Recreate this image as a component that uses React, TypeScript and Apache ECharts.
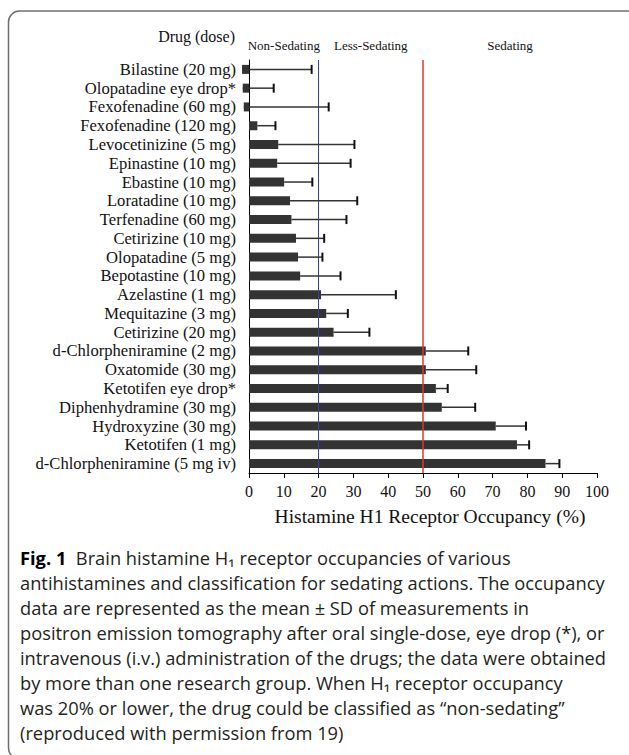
import React, { useEffect, useRef } from "react";
import * as echarts from "echarts";

const categories = [
  "Bilastine (20 mg)",
  "Olopatadine eye drop*",
  "Fexofenadine (60 mg)",
  "Fexofenadine (120 mg)",
  "Levocetinizine (5 mg)",
  "Epinastine (10 mg)",
  "Ebastine (10 mg)",
  "Loratadine (10 mg)",
  "Terfenadine (60 mg)",
  "Cetirizine (10 mg)",
  "Olopatadine (5 mg)",
  "Bepotastine (10 mg)",
  "Azelastine (1 mg)",
  "Mequitazine (3 mg)",
  "Cetirizine (20 mg)",
  "d-Chlorpheniramine (2 mg)",
  "Oxatomide (30 mg)",
  "Ketotifen eye drop*",
  "Diphenhydramine (30 mg)",
  "Hydroxyzine (30 mg)",
  "Ketotifen (1 mg)",
  "d-Chlorpheniramine (5 mg iv)",
];

const meanOccupancy = [
  -2.0, -1.8, -1.5, 2.4, 8.4, 8.1, 10.1, 11.8, 12.2, 13.5, 14.1, 14.7, 20.7,
  22.2, 24.3, 50.8, 50.8, 53.7, 55.4, 70.9, 77.0, 85.2,
];

const sdOccupancy = [
  20.0, 8.9, 24.4, 5.2, 21.9, 21.1, 8.1, 19.3, 15.8, 8.1, 7.0, 11.6, 21.5, 6.2,
  10.3, 12.2, 14.5, 3.4, 9.6, 8.7, 3.5, 4.0,
];

const zoneNames = ["Non-Sedating", "Less-Sedating", "Sedating"];
const zoneBounds = [0, 20, 50, 100];
const thresholds = [20, 50];
const thresholdColors = ["#3c3cb4", "#e5352c"];

const xTitle = "Histamine H1 Receptor Occupancy (%)";
const yTitle = "Drug (dose)";

const captionLines = [
  "{b|Fig. 1}  Brain histamine H\u2081 receptor occupancies of various",
  "antihistamines and classification for sedating actions. The occupancy",
  "data are represented as the mean \u00b1 SD of measurements in",
  "positron emission tomography after oral single-dose, eye drop (*), or",
  "intravenous (i.v.) administration of the drugs; the data were obtained",
  "by more than one research group. When H\u2081 receptor occupancy",
  "was 20% or lower, the drug could be classified as \u201cnon-sedating\u201d",
  "(reproduced with permission from 19)",
];

export default function App() {
  const ref = useRef<HTMLDivElement>(null);

  useEffect(() => {
    if (!ref.current) return;
    const chart = echarts.init(ref.current, null, { renderer: "svg" });
    const serif = "'Liberation Serif', 'Times New Roman', serif";
    const sans = "'Open Sans', 'Noto Sans', 'DejaVu Sans', sans-serif";

    const errData = categories.map((c, i) => [
      meanOccupancy[i],
      i,
      meanOccupancy[i] + sdOccupancy[i],
    ]);

    const graphics: any[] = [
      {
        type: "rect",
        z: -10,
        shape: { x: 8.5, y: 11, width: 632, height: 748, r: 11 },
        style: { fill: "none", stroke: "#6e6e6e", lineWidth: 1.5 },
      },
    ];
    captionLines.forEach((line, i) => {
      graphics.push({
        type: "text",
        x: 20,
        y: 557 + 25 * i,
        style: {
          text: line,
          fontSize: 18.3,
          fontFamily: sans,
          fill: "#231f20",
          verticalAlign: "middle",
          rich: {
            b: { fontSize: 18.3, fontFamily: sans, fontWeight: "bold", fill: "#000" },
          },
        },
      });
    });

    chart.setOption({
      animation: false,
      backgroundColor: "#ffffff",
      textStyle: { fontFamily: serif },
      grid: { left: 249, right: 32, top: 60, bottom: 282, containLabel: false },
      xAxis: {
        type: "value",
        min: 0,
        max: 100,
        interval: 10,
        splitLine: { show: false },
        axisLine: { show: true, lineStyle: { color: "#000", width: 1 } },
        axisTick: { show: true, length: 5, lineStyle: { color: "#000" } },
        axisLabel: { fontSize: 16, fontFamily: serif, color: "#111", margin: 10 },
        name: xTitle,
        nameLocation: "middle",
        nameGap: 33,
        nameTextStyle: {
          fontSize: 19.5,
          fontFamily: serif,
          color: "#111",
          padding: [0, 0, 0, 14],
        },
      },
      yAxis: {
        type: "category",
        inverse: true,
        data: categories,
        axisLine: { show: true, lineStyle: { color: "#000", width: 1 } },
        axisTick: { show: false },
        axisLabel: {
          interval: 0,
          fontSize: 16.6,
          fontFamily: serif,
          color: "#111",
          margin: 13,
        },
        splitLine: { show: false },
        name: yTitle,
        nameLocation: "start",
        nameGap: 16,
        nameTextStyle: {
          fontSize: 16,
          fontFamily: serif,
          color: "#111",
          align: "right",
          verticalAlign: "bottom",
          padding: [0, 14, 0, 0],
        },
      },
      graphic: graphics,
      series: [
        {
          type: "bar",
          data: meanOccupancy,
          barWidth: 9,
          clip: false,
          itemStyle: { color: "#333333" },
          z: 2,
          markLine: {
            silent: true,
            symbol: "none",
            label: { show: false },
            data: thresholds.map((t, i) => ({
              xAxis: t,
              lineStyle: {
                color: thresholdColors[i],
                width: i === 0 ? 1 : 1.5,
                type: "solid",
              },
            })),
          },
          markArea: {
            silent: true,
            itemStyle: { color: "rgba(0,0,0,0)" },
            label: {
              show: true,
              position: "top",
              distance: 8,
              fontSize: 13,
              fontFamily: serif,
              color: "#111",
            },
            data: zoneNames.map((n, i) => [
              { name: n, xAxis: zoneBounds[i] },
              { xAxis: zoneBounds[i + 1] },
            ]),
          },
        },
        {
          type: "custom",
          data: errData,
          encode: { x: [0, 2], y: 1 },
          z: 5,
          renderItem: (params: any, api: any) => {
            const idx = api.value(1);
            const start = api.coord([api.value(0), idx]);
            const end = api.coord([api.value(2), idx]);
            const h = 9;
            return {
              type: "group",
              children: [
                {
                  type: "line",
                  shape: { x1: start[0], y1: start[1], x2: end[0], y2: end[1] },
                  style: { stroke: "#333", lineWidth: 1.5 },
                },
                {
                  type: "line",
                  shape: { x1: end[0], y1: end[1] - h / 2, x2: end[0], y2: end[1] + h / 2 },
                  style: { stroke: "#111", lineWidth: 2 },
                },
              ],
            };
          },
        },
      ],
    });

    return () => chart.dispose();
  }, []);

  return (
    <div
      ref={ref}
      style={{ position: "absolute", left: 0, top: 0, width: 629, height: 755 }}
    />
  );
}
